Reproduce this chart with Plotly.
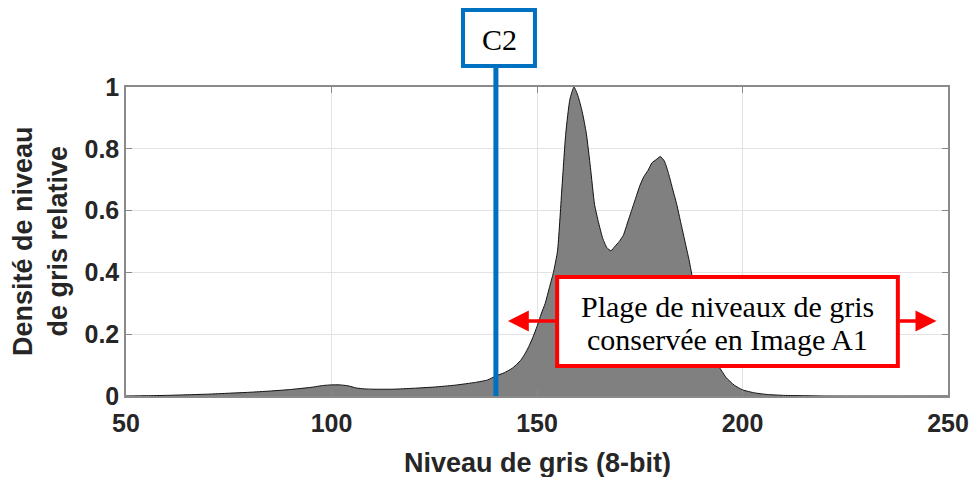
import plotly.graph_objects as go

# Relative grey-level density histogram (8-bit)
grey_levels = [50, 55, 60, 65, 70, 75, 80, 85, 90, 95, 98, 100, 102, 104, 106, 108, 110,
               115, 120, 125, 130, 135, 138, 140, 142, 144, 146, 147, 148, 149, 150, 151,
               152, 153, 154, 155, 156, 157, 158, 159, 160, 161, 162, 163, 164, 165, 166,
               167, 168, 169, 170, 171, 172, 173, 174, 175, 176, 177, 178, 179, 180, 181,
               182, 183, 184, 185, 186, 187, 188, 189, 190, 191, 192, 193, 194, 195, 196,
               198, 200, 203, 206, 210, 215, 220, 250]
density = [0.0, 0.001, 0.002, 0.004, 0.006, 0.009, 0.012, 0.016, 0.021, 0.028, 0.034, 0.036,
           0.036, 0.033, 0.026, 0.023, 0.022, 0.022, 0.025, 0.029, 0.035, 0.044, 0.052, 0.065,
           0.075, 0.09, 0.115, 0.135, 0.16, 0.19, 0.225, 0.265, 0.30, 0.35, 0.40, 0.47, 0.66,
           0.85, 0.96, 1.0, 0.97, 0.92, 0.85, 0.74, 0.62, 0.56, 0.51, 0.48, 0.47, 0.485, 0.50,
           0.52, 0.56, 0.60, 0.64, 0.68, 0.71, 0.73, 0.755, 0.765, 0.775, 0.76, 0.72, 0.67,
           0.62, 0.56, 0.50, 0.44, 0.37, 0.30, 0.24, 0.19, 0.15, 0.12, 0.10, 0.08, 0.06, 0.035,
           0.02, 0.01, 0.005, 0.002, 0.001, 0.0, 0.0]

x_ticks = [50, 100, 150, 200, 250]
y_ticks = [0, 0.2, 0.4, 0.6, 0.8, 1]
y_tick_labels = ["0", "0.2", "0.4", "0.6", "0.8", "1"]

c2_threshold = 140
range_start = 142.9
range_end = 247.2
range_lines = ["Plage de niveaux de gris", "conservée en Image A1"]

BLUE = "#0070C0"
RED = "#FF0000"
INK = "#262626"
SERIF = "Liberation Serif, Times New Roman, serif"
SANS = "Liberation Sans, Arial, sans-serif"

fig = go.Figure()
fig.add_trace(go.Scatter(
    x=grey_levels, y=density, mode="lines",
    line=dict(color="#111111", width=1, shape="spline", smoothing=0.5),
    fill="tozeroy", fillcolor="#808080", hoverinfo="skip", showlegend=False,
))

axis_common = dict(
    showline=True, linecolor="#8a8a8a", linewidth=1.5, mirror="ticks",
    ticks="inside", ticklen=6, tickcolor="#8a8a8a", tickwidth=1,
    showgrid=True, gridcolor="#e3e3e3", gridwidth=1, zeroline=False,
    automargin=False,
    tickfont=dict(family=SANS, size=25, color=INK, weight="bold"),
)

fig.update_xaxes(range=[50, 250], tickvals=x_ticks, ticklabelstandoff=4, **axis_common)
fig.update_yaxes(range=[0, 1], tickvals=y_ticks, ticktext=y_tick_labels, **axis_common)

shapes = [
    # C2 threshold line
    dict(type="line", xref="x", yref="paper", x0=c2_threshold, x1=c2_threshold,
         y0=0, y1=1.068, line=dict(color=BLUE, width=5), layer="above"),
    # C2 label frame
    dict(type="rect", xref="x", yref="paper", x0=132.0, x1=149.5, y0=1.068, y1=1.249,
         fillcolor="white", line=dict(color=BLUE, width=4), layer="above"),
    # frame around the retained grey-level range text
    dict(type="rect", xref="x", yref="y", x0=154.9, x1=237.8, y0=0.097, y1=0.385,
         fillcolor="white", line=dict(color=RED, width=4), layer="above"),
]

arrow = dict(text="", xref="x", yref="y", axref="x", ayref="y", showarrow=True,
             arrowhead=2, arrowsize=1.2, arrowwidth=3.5, arrowcolor=RED, standoff=0)

annotations = [
    dict(text="<b>Densité de niveau<br>de gris relative</b>", xref="paper", yref="paper",
         x=-0.104, y=0.5, xanchor="center", yanchor="middle", textangle=-90,
         showarrow=False, font=dict(family=SANS, size=27, color=INK)),
    dict(text="<b>Niveau de gris (8-bit)</b>", xref="paper", yref="paper",
         x=0.5, y=-0.217, xanchor="center", yanchor="middle",
         showarrow=False, font=dict(family=SANS, size=27, color=INK)),
    dict(text="C2", xref="x", yref="paper", x=140.8, y=1.155,
         xanchor="center", yanchor="middle", showarrow=False,
         font=dict(family=SERIF, size=30, color="black")),
    dict(arrow, x=range_start, y=0.2427, ax=154.9, ay=0.2427),
    dict(arrow, x=range_end, y=0.2427, ax=237.8, ay=0.2427),
    dict(text=range_lines[0], xref="x", yref="y", x=196.3, y=0.291,
         xanchor="center", yanchor="middle", showarrow=False,
         font=dict(family=SERIF, size=30, color="black")),
    dict(text=range_lines[1], xref="x", yref="y", x=196.3, y=0.184,
         xanchor="center", yanchor="middle", showarrow=False,
         font=dict(family=SERIF, size=30, color="black")),
]

fig.update_layout(
    width=971, height=477,
    margin=dict(l=126, r=23, t=87, b=81),
    plot_bgcolor="white", paper_bgcolor="white",
    shapes=shapes, annotations=annotations,
)

fig.write_html("out.html")
